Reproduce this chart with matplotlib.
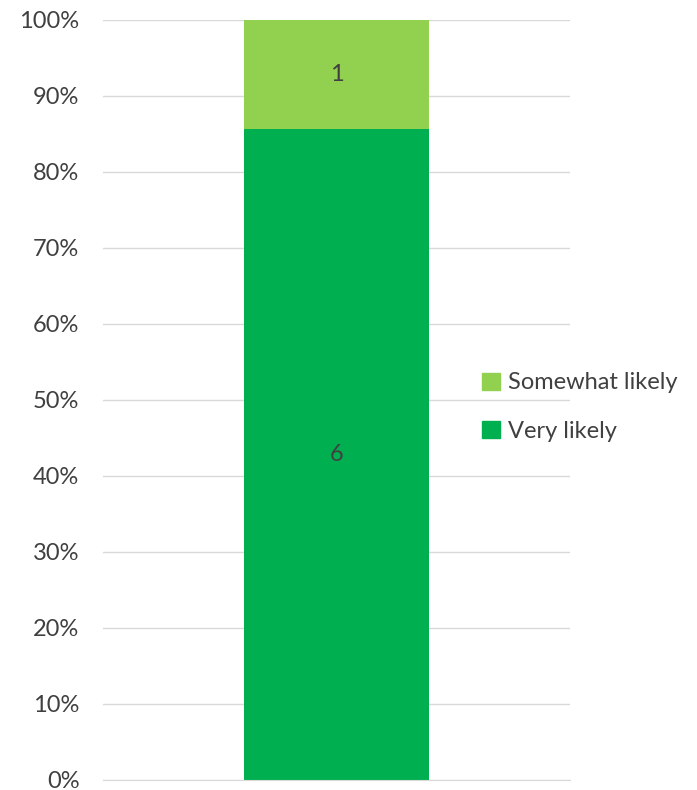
import matplotlib.pyplot as plt
from matplotlib.patches import Patch

plt.rcParams['font.family'] = ['Lato', 'DejaVu Sans']

categories = ['']
series_names = ['Very likely', 'Somewhat likely']
series_counts = [[6], [1]]
series_colors = ['#00B050', '#92D050']
tick_labels = ['0%', '10%', '20%', '30%', '40%', '50%', '60%', '70%', '80%', '90%', '100%']

text_color = '#404040'

fig = plt.figure(figsize=(6.97, 7.90), dpi=100)
ax = fig.add_axes([103 / 697, 10 / 790, 467 / 697, 760 / 790])

totals = [sum(s[i] for s in series_counts) for i in range(len(categories))]
bottom = [0.0] * len(categories)
for name, counts, color in zip(series_names, series_counts, series_colors):
    shares = [c / t for c, t in zip(counts, totals)]
    ax.bar(range(len(categories)), shares, width=0.398, bottom=bottom,
           color=color, label=name, zorder=2)
    for i, (c, s) in enumerate(zip(counts, shares)):
        ax.text(i, bottom[i] + s / 2, str(c), ha='center', va='center',
                fontsize=17, color=text_color, zorder=3)
    bottom = [b + s for b, s in zip(bottom, shares)]

ax.set_xlim(-0.5, 0.5)
ax.set_ylim(0, 1)
ax.set_yticks([i / 10 for i in range(11)])
ax.set_yticklabels(tick_labels, fontsize=17, color=text_color)
ax.set_xticks([])
ax.yaxis.grid(True, color='#D9D9D9', linewidth=1, zorder=0)
ax.tick_params(axis='y', length=0, pad=17)
for sp in ax.spines.values():
    sp.set_visible(False)
ax.spines['bottom'].set_visible(True)
ax.spines['bottom'].set_color('#D9D9D9')

handles = [Patch(color=series_colors[1]), Patch(color=series_colors[0])]
fig.legend(handles, ['Somewhat likely', 'Very likely'], loc='center left',
           bbox_to_anchor=(473 / 697, 1 - 407 / 790), frameon=False,
           fontsize=17, labelcolor=text_color, handlelength=0.75, handleheight=0.75,
           handletextpad=0.35, labelspacing=1.15, borderaxespad=0)

fig.savefig('out.png', dpi=100)
